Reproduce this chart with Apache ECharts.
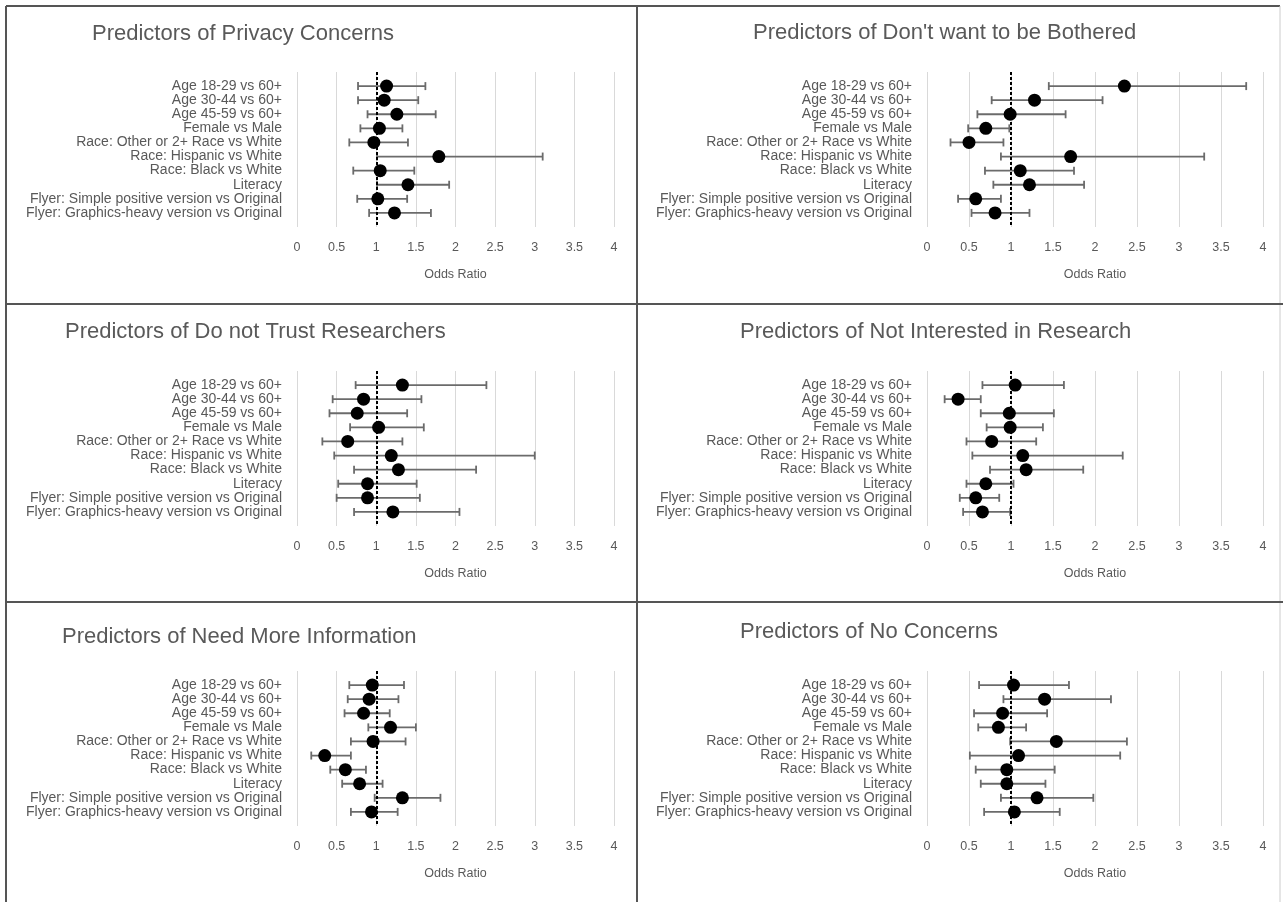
<!DOCTYPE html>
<html>
<head>
<meta charset="utf-8">
<script src="https://cdn.jsdelivr.net/npm/echarts@6/dist/echarts.min.js"></script>
<style>
  html, body { margin: 0; padding: 0; background: #fff; }
  #main { width: 1283px; height: 902px; }
</style>
</head>
<body>
<div id="main"></div>
<script>
// predictor names, top to bottom
var categories = [
    'Age 18-29 vs 60+',
    'Age 30-44 vs 60+',
    'Age 45-59 vs 60+',
    'Female vs Male',
    'Race: Other or 2+ Race vs White',
    'Race: Hispanic vs White',
    'Race: Black vs White',
    'Literacy',
    'Flyer: Simple positive version vs Original',
    'Flyer: Graphics-heavy version vs Original'
];
var xTicks = [0, 0.5, 1, 1.5, 2, 2.5, 3, 3.5, 4];

// odds ratios and 95% CI
var privacyOR = [1.13, 1.10, 1.26, 1.04, 0.97, 1.79, 1.05, 1.40, 1.02, 1.23];
var privacyLo = [0.77, 0.77, 0.89, 0.80, 0.66, 1.01, 0.71, 1.01, 0.76, 0.91];
var privacyHi = [1.62, 1.53, 1.75, 1.33, 1.40, 3.10, 1.48, 1.92, 1.39, 1.69];

var botheredOR = [2.35, 1.28, 0.99, 0.70, 0.50, 1.71, 1.11, 1.22, 0.58, 0.81];
var botheredLo = [1.45, 0.77, 0.60, 0.49, 0.28, 0.88, 0.69, 0.79, 0.37, 0.53];
var botheredHi = [3.80, 2.09, 1.65, 0.98, 0.91, 3.30, 1.75, 1.87, 0.88, 1.22];

var trustOR = [1.33, 0.84, 0.76, 1.03, 0.64, 1.19, 1.28, 0.89, 0.89, 1.21];
var trustLo = [0.74, 0.45, 0.41, 0.67, 0.32, 0.47, 0.72, 0.52, 0.50, 0.72];
var trustHi = [2.39, 1.57, 1.39, 1.60, 1.33, 3.00, 2.26, 1.51, 1.55, 2.05];

var interestOR = [1.05, 0.37, 0.98, 0.99, 0.77, 1.14, 1.18, 0.70, 0.58, 0.66];
var interestLo = [0.66, 0.21, 0.64, 0.71, 0.47, 0.54, 0.75, 0.47, 0.39, 0.43];
var interestHi = [1.63, 0.64, 1.51, 1.38, 1.30, 2.33, 1.86, 1.03, 0.86, 0.99];

var infoOR = [0.95, 0.91, 0.84, 1.18, 0.96, 0.35, 0.61, 0.79, 1.33, 0.94];
var infoLo = [0.66, 0.64, 0.60, 0.90, 0.68, 0.18, 0.42, 0.57, 0.98, 0.68];
var infoHi = [1.35, 1.28, 1.17, 1.50, 1.37, 0.68, 0.87, 1.08, 1.81, 1.27];

var noneOR = [1.03, 1.40, 0.90, 0.85, 1.54, 1.09, 0.95, 0.95, 1.31, 1.04];
var noneLo = [0.62, 0.91, 0.56, 0.61, 0.99, 0.51, 0.58, 0.64, 0.88, 0.68];
var noneHi = [1.69, 2.19, 1.43, 1.18, 2.38, 2.30, 1.52, 1.41, 1.98, 1.58];

var panels = [
    {title: 'Predictors of Privacy Concerns', or: privacyOR, lo: privacyLo, hi: privacyHi,
        tx: 92, ty: 23, left: 297, width: 317, top: 72},
    {title: "Predictors of Don't want to be Bothered", or: botheredOR, lo: botheredLo, hi: botheredHi,
        tx: 753, ty: 22, left: 927, width: 336, top: 72},
    {title: 'Predictors of Do not Trust Researchers', or: trustOR, lo: trustLo, hi: trustHi,
        tx: 65, ty: 321, left: 297, width: 317, top: 371},
    {title: 'Predictors of Not Interested in Research', or: interestOR, lo: interestLo, hi: interestHi,
        tx: 740, ty: 321, left: 927, width: 336, top: 371},
    {title: 'Predictors of Need More Information', or: infoOR, lo: infoLo, hi: infoHi,
        tx: 62, ty: 626, left: 297, width: 317, top: 671},
    {title: 'Predictors of No Concerns', or: noneOR, lo: noneLo, hi: noneHi,
        tx: 740, ty: 621, left: 927, width: 336, top: 671}
];

var textColor = '#595959';
var fontFamily = '"Liberation Sans", Arial, sans-serif';

var titles = [], grids = [], xAxes = [], yAxes = [], series = [];

panels.forEach(function (p, k) {
    titles.push({
        text: p.title,
        left: p.tx,
        top: p.ty,
        padding: 0,
        textStyle: {color: textColor, fontSize: 22, fontWeight: 'normal', fontFamily: fontFamily}
    });
    grids.push({left: p.left, width: p.width, top: p.top, height: 155});
    xAxes.push({
        type: 'value',
        gridIndex: k,
        min: xTicks[0],
        max: xTicks[xTicks.length - 1],
        interval: 0.5,
        name: 'Odds Ratio',
        nameLocation: 'middle',
        nameGap: 41,
        nameTextStyle: {color: textColor, fontSize: 12.5, fontFamily: fontFamily},
        axisLine: {show: false},
        axisTick: {show: false},
        axisLabel: {color: textColor, fontSize: 12.5, margin: 14, fontFamily: fontFamily},
        splitLine: {show: true, lineStyle: {color: '#d9d9d9', width: 1}}
    });
    yAxes.push({
        type: 'value',
        gridIndex: k,
        inverse: true,
        min: -1,
        max: 10,
        interval: 1,
        axisLine: {show: false},
        axisTick: {show: false},
        splitLine: {show: false},
        axisLabel: {
            color: textColor, fontSize: 14, margin: 15, fontFamily: fontFamily,
            formatter: function (v) { return categories[v] || ''; }
        }
    });

    var bars = [], pts = [];
    for (var i = 0; i < categories.length; i++) {
        bars.push([p.lo[i], p.hi[i], i]);
        pts.push([p.or[i], i]);
    }

    // confidence intervals with end caps
    series.push({
        type: 'custom',
        xAxisIndex: k,
        yAxisIndex: k,
        z: 2,
        silent: true,
        data: bars,
        renderItem: function (params, api) {
            var a = api.coord([api.value(0), api.value(2)]);
            var b = api.coord([api.value(1), api.value(2)]);
            var h = 4;
            var st = {stroke: '#6b6b6b', lineWidth: 1.8};
            return {
                type: 'group',
                children: [
                    {type: 'line', shape: {x1: a[0], y1: a[1], x2: b[0], y2: b[1]}, style: st},
                    {type: 'line', shape: {x1: a[0], y1: a[1] - h, x2: a[0], y2: a[1] + h}, style: st},
                    {type: 'line', shape: {x1: b[0], y1: b[1] - h, x2: b[0], y2: b[1] + h}, style: st}
                ]
            };
        }
    });
    series.push({
        type: 'scatter',
        xAxisIndex: k,
        yAxisIndex: k,
        z: 3,
        symbolSize: 13,
        itemStyle: {color: '#000', opacity: 1},
        data: pts,
        markLine: {
            silent: true,
            symbol: 'none',
            label: {show: false},
            lineStyle: {color: '#000', type: [3, 2], width: 2},
            data: [{xAxis: 1}]
        }
    });
});

// panel borders
var border = {stroke: '#555', lineWidth: 2};
var graphics = [
    {type: 'line', shape: {x1: 6, y1: 6, x2: 1280, y2: 6}, style: border},
    {type: 'line', shape: {x1: 6, y1: 6, x2: 6, y2: 902}, style: border},
    {type: 'line', shape: {x1: 1280, y1: 6, x2: 1280, y2: 902}, style: {stroke: '#ccc', lineWidth: 1}},
    {type: 'line', shape: {x1: 637, y1: 6, x2: 637, y2: 902}, style: border},
    {type: 'line', shape: {x1: 6, y1: 304, x2: 1283, y2: 304}, style: border},
    {type: 'line', shape: {x1: 6, y1: 602, x2: 1283, y2: 602}, style: border}
];

var myChart = echarts.init(document.getElementById('main'));
myChart.setOption({
    backgroundColor: '#fff',
    animation: false,
    title: titles,
    grid: grids,
    xAxis: xAxes,
    yAxis: yAxes,
    series: series,
    graphic: graphics
});
</script>
</body>
</html>
